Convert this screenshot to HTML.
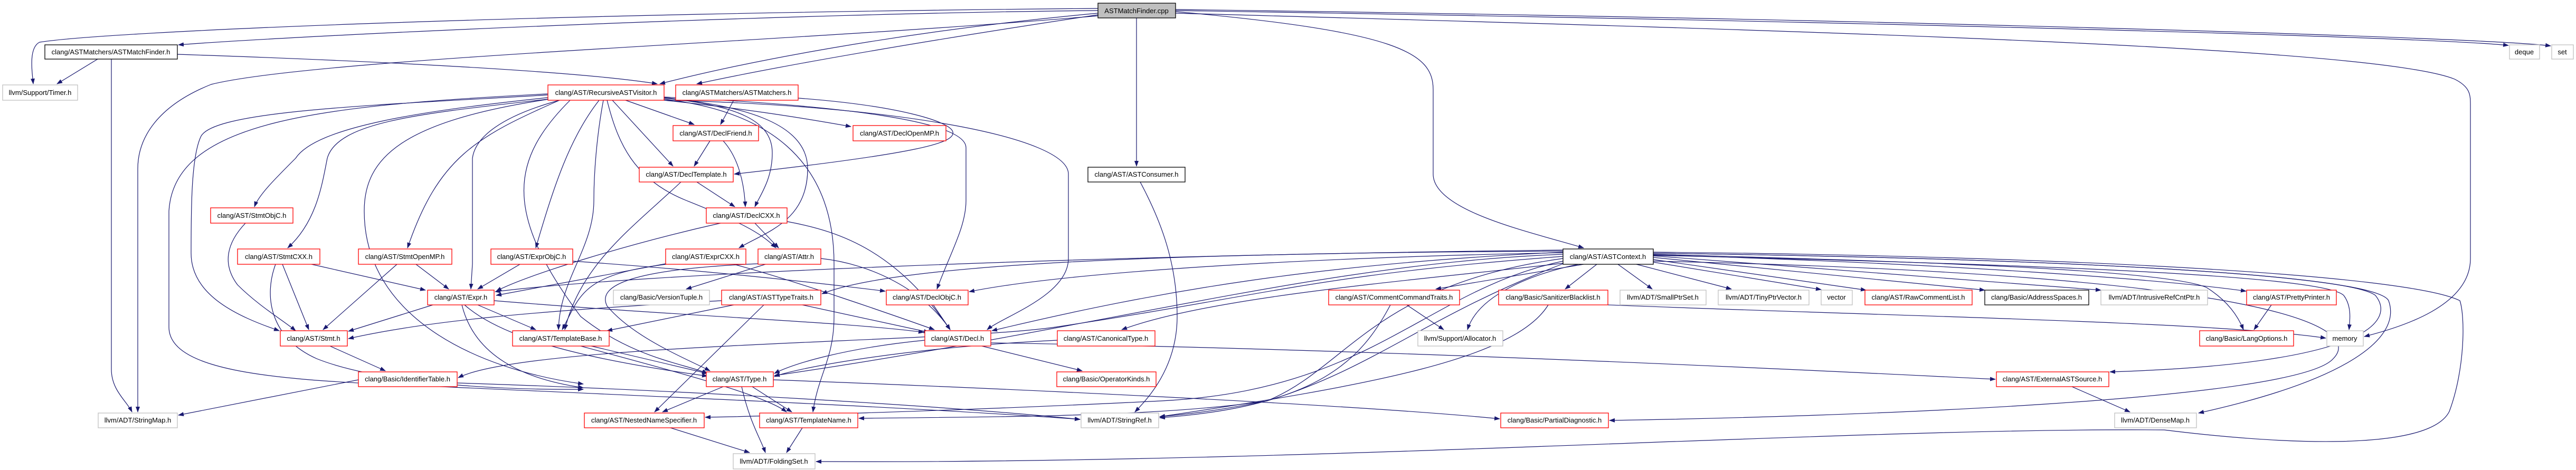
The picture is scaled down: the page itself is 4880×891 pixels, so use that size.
<!DOCTYPE html>
<html><head><meta charset="utf-8"><style>
html,body{margin:0;padding:0;background:#fff;width:4880px;height:891px;overflow:hidden}
svg{display:block}
text{font-family:"Liberation Sans",Arial,sans-serif;font-size:13px;fill:#000;text-anchor:middle}
.r{fill:#fff;stroke:#ff0000;stroke-width:1.3}
.g{fill:#fff;stroke:#bfbfbf;stroke-width:1.3}
.b{fill:#fff;stroke:#000;stroke-width:1.3}
.e{fill:none;stroke:#191970;stroke-width:1.2;marker-end:url(#a)}
</style></head><body>
<svg width="4880" height="891" viewBox="0 0 4880 891" xmlns="http://www.w3.org/2000/svg">
<defs><marker id="a" markerUnits="userSpaceOnUse" markerWidth="11" markerHeight="8" refX="10" refY="4" orient="auto"><path d="M0,0 L11,4 L0,8 z" fill="#191970"/></marker></defs>
<g>
<path class="e" d="M2080,20 C1500,25 600,65 338,85"/>
<path class="e" d="M2080,16 C1000,25 200,60 75,80 C55,90 60,130 63,159"/>
<path class="e" d="M2080,25 C1700,60 1400,120 1250,159"/>
<path class="e" d="M2080,28 C1800,70 1500,120 1320,159"/>
<path class="e" d="M2153,34 L2153,315"/>
<path class="e" d="M2227,22 C2650,60 2715,100 2715,170 L2715,330 C2715,400 2900,440 3000,470"/>
<path class="e" d="M2080,30 C1500,80 600,110 400,160 C300,200 261,260 261,320 L261,781"/>
<path class="e" d="M2227,20 C3500,40 4600,70 4752,86"/>
<path class="e" d="M2227,18 C3500,35 4700,70 4832,87"/>
<path class="e" d="M2227,25 C3500,60 4500,90 4650,150 C4680,165 4680,180 4680,200 L4680,490 C4680,580 4550,620 4479,638"/>
<path class="e" d="M185,112 L108,159"/>
<path class="e" d="M211,112 L211,700 C211,740 240,760 250,781"/>
<path class="e" d="M336,103 C700,115 1100,135 1245,159"/>
<path class="e" d="M1390,190 L1365,236"/>
<path class="e" d="M1512,186 C1700,200 1800,230 1805,250 C1810,270 1750,290 1391,330"/>
<path class="e" d="M1258,190 C1700,200 2024,260 2024,330 L2024,490 C2024,560 1900,600 1870,625"/>
<path class="e" d="M1038,185 C800,210 600,240 560,300 C520,340 490,370 482,392"/>
<path class="e" d="M1038,188 C800,215 640,230 620,300 C610,350 600,420 545,470"/>
<path class="e" d="M1060,190 C900,260 830,300 772,470"/>
<path class="e" d="M1038,180 C700,200 400,210 380,260 C362,300 362,400 362,480 C362,560 450,600 529,627"/>
<path class="e" d="M1060,190 C950,220 900,260 895,300 L895,500 L892,548"/>
<path class="e" d="M1135,190 C1080,260 1050,350 1015,470"/>
<path class="e" d="M1143,190 C1130,260 1125,330 1125,380 C1125,470 1060,530 1058,625"/>
<path class="e" d="M1185,190 L1315,236"/>
<path class="e" d="M1160,190 L1275,315"/>
<path class="e" d="M1150,190 C1170,270 1200,340 1300,380 C1400,420 1440,440 1470,470"/>
<path class="e" d="M1258,185 C1400,200 1530,230 1530,320 C1530,420 1450,440 1400,470"/>
<path class="e" d="M1258,186 C1400,200 1463,230 1463,290 C1463,340 1440,370 1430,392"/>
<path class="e" d="M1258,188 C1450,210 1580,300 1580,500 L1580,600 C1580,680 1550,710 1540,781"/>
<path class="e" d="M1258,190 C1400,205 1500,220 1612,240"/>
<path class="e" d="M1258,184 C1600,200 1830,230 1830,280 L1830,380 C1830,430 1800,480 1775,548"/>
<path class="e" d="M1040,188 C760,230 690,300 690,400 C690,600 900,700 1105,728"/>
<path class="e" d="M1080,190 C970,300 950,400 1100,600 C1200,680 1300,690 1340,708"/>
<path class="e" d="M1038,178 C600,200 330,230 320,400 L320,620 C320,700 500,720 770,730 C1200,750 1700,770 2046,795"/>
<path class="e" d="M1345,267 L1315,315"/>
<path class="e" d="M1370,267 C1400,300 1410,350 1412,392"/>
<path class="e" d="M1320,345 L1392,392"/>
<path class="e" d="M1290,345 C1200,430 1100,500 1070,625"/>
<path class="e" d="M1430,423 L1475,470"/>
<path class="e" d="M1365,423 C1200,460 1000,520 940,552"/>
<path class="e" d="M1491,420 C1600,440 1700,480 1800,625"/>
<path class="e" d="M465,423 C430,460 420,500 450,540 C490,580 540,610 560,627"/>
<path class="e" d="M535,501 L585,625"/>
<path class="e" d="M590,501 L806,550"/>
<path class="e" d="M522,501 C500,560 510,640 600,680 C700,720 900,740 1105,738"/>
<path class="e" d="M752,501 L612,625"/>
<path class="e" d="M788,501 L850,548"/>
<path class="e" d="M985,501 L905,548"/>
<path class="e" d="M1085,495 C1300,510 1500,530 1677,552"/>
<path class="e" d="M1261,500 L940,560"/>
<path class="e" d="M1270,500 C1100,520 1100,560 1065,625"/>
<path class="e" d="M1390,501 C1500,530 1700,600 1770,625"/>
<path class="e" d="M1450,501 L1300,548"/>
<path class="e" d="M1436,500 C1200,510 1130,540 1150,580 C1200,640 1300,680 1345,703"/>
<path class="e" d="M1555,490 C1650,500 1750,550 1800,625"/>
<path class="e" d="M820,578 L660,628"/>
<path class="e" d="M905,578 L1015,625"/>
<path class="e" d="M880,578 C950,640 1100,680 1340,713"/>
<path class="e" d="M936,570 C1300,600 1600,610 1750,630"/>
<path class="e" d="M875,578 C900,680 1000,720 1105,735"/>
<path class="e" d="M1390,578 L1150,627"/>
<path class="e" d="M1447,578 L1240,781"/>
<path class="e" d="M1367,570 C1000,590 800,610 660,642"/>
<path class="e" d="M1520,578 L1760,630"/>
<path class="e" d="M1120,656 L1340,708"/>
<path class="e" d="M1100,656 C1300,710 1450,750 1490,781"/>
<path class="e" d="M1370,733 L1255,781"/>
<path class="e" d="M1425,733 L1500,781"/>
<path class="e" d="M1405,733 C1420,800 1440,830 1450,858"/>
<path class="e" d="M1465,720 C2000,740 2600,770 2841,794"/>
<path class="e" d="M1270,811 L1420,858"/>
<path class="e" d="M1520,811 L1490,858"/>
<path class="e" d="M625,656 L730,703"/>
<path class="e" d="M679,720 L338,787"/>
<path class="e" d="M866,726 C1300,740 1800,770 2046,795"/>
<path class="e" d="M1768,578 L1800,625"/>
<path class="e" d="M1860,656 L2050,703"/>
<path class="e" d="M1752,645 C1600,660 1500,690 1467,708"/>
<path class="e" d="M1877,650 C2500,660 3200,690 3780,719"/>
<path class="e" d="M2160,345 C2200,420 2230,500 2230,600 C2230,700 2170,760 2150,781"/>
<path class="e" d="M3000,501 L2720,548"/>
<path class="e" d="M3025,501 L2965,548"/>
<path class="e" d="M3065,501 L3130,548"/>
<path class="e" d="M3100,501 L3280,548"/>
<path class="e" d="M3120,495 L3450,549"/>
<path class="e" d="M3132,492 L3535,550"/>
<path class="e" d="M3132,488 L3760,550"/>
<path class="e" d="M3132,485 L3980,550"/>
<path class="e" d="M3132,483 C3700,500 4100,530 4255,552"/>
<path class="e" d="M3132,482 C3600,495 4100,510 4180,545 C4220,570 4240,600 4250,625"/>
<path class="e" d="M3132,484 C3800,500 4400,520 4440,560 C4455,580 4452,605 4450,625"/>
<path class="e" d="M3132,480 C3900,490 4450,520 4500,560 C4540,610 4480,690 3997,705"/>
<path class="e" d="M3132,480 C3900,490 4500,520 4525,570 C4550,640 4450,720 4165,783"/>
<path class="e" d="M3132,478 C3900,485 4560,520 4660,570 C4670,600 4670,700 4640,780 C4600,860 4300,840 4100,815 C3500,810 2500,880 1546,875"/>
<path class="e" d="M2990,501 C2900,520 2800,560 2780,625"/>
<path class="e" d="M2961,478 C2500,500 2200,550 1879,627"/>
<path class="e" d="M2961,482 C2500,500 2100,620 1467,712"/>
<path class="e" d="M2961,476 C2200,480 1700,500 1557,557"/>
<path class="e" d="M2961,474 C2000,485 1200,520 938,553"/>
<path class="e" d="M2961,479 C2400,490 2000,520 1836,553"/>
<path class="e" d="M2961,490 C2600,540 2550,700 2400,760 C2200,790 1900,790 1627,793"/>
<path class="e" d="M2961,495 C2700,550 2600,740 2200,760 C1800,780 1400,790 1336,791"/>
<path class="e" d="M2970,498 C2700,530 2300,560 2125,625"/>
<path class="e" d="M3132,495 C4300,520 4480,620 4420,680 C4350,760 3500,790 3049,797"/>
<path class="e" d="M2961,500 C2700,600 2600,700 2400,760 C2300,780 2250,785 2197,790"/>
<path class="e" d="M2961,486 C2500,520 2400,560 2000,620 C1800,650 1000,650 868,716"/>
<path class="e" d="M2665,578 L2735,625"/>
<path class="e" d="M2634,578 C2580,680 2500,770 2197,792"/>
<path class="e" d="M2933,578 C2870,680 2600,730 2197,790"/>
<path class="e" d="M3046,578 C3600,600 4200,610 4406,641"/>
<path class="e" d="M4303,578 L4270,625"/>
<path class="e" d="M3925,733 L4035,781"/>
<path class="e" d="M2003,645 C1700,660 1500,700 1467,714"/>
</g>
<g>
<rect x="2080" y="6" width="147" height="28" fill="#bfbfbf" stroke="#000" stroke-width="1.3"/><text x="2153" y="25">ASTMatchFinder.cpp</text>
<rect class="b" x="85" y="85" width="251" height="27"/><text x="210" y="103">clang/ASTMatchers/ASTMatchFinder.h</text>
<rect class="g" x="5" y="161" width="142" height="29"/><text x="76" y="180">llvm/Support/Timer.h</text>
<rect class="r" x="1038" y="161" width="220" height="29"/><text x="1148" y="180">clang/AST/RecursiveASTVisitor.h</text>
<rect class="r" x="1280" y="161" width="232" height="29"/><text x="1396" y="180">clang/ASTMatchers/ASTMatchers.h</text>
<rect class="g" x="4754" y="85" width="57" height="27"/><text x="4782" y="103">deque</text>
<rect class="g" x="4834" y="85" width="41" height="27"/><text x="4854" y="103">set</text>
<rect class="r" x="1275" y="238" width="162" height="29"/><text x="1356" y="257">clang/AST/DeclFriend.h</text>
<rect class="r" x="1616" y="238" width="176" height="29"/><text x="1704" y="257">clang/AST/DeclOpenMP.h</text>
<rect class="r" x="1211" y="317" width="178" height="28"/><text x="1300" y="335">clang/AST/DeclTemplate.h</text>
<rect class="b" x="2061" y="317" width="184" height="28"/><text x="2153" y="335">clang/AST/ASTConsumer.h</text>
<rect class="r" x="399" y="394" width="156" height="29"/><text x="477" y="413">clang/AST/StmtObjC.h</text>
<rect class="r" x="1338" y="394" width="153" height="29"/><text x="1414" y="413">clang/AST/DeclCXX.h</text>
<rect class="r" x="450" y="472" width="156" height="29"/><text x="528" y="491">clang/AST/StmtCXX.h</text>
<rect class="r" x="679" y="472" width="177" height="29"/><text x="767" y="491">clang/AST/StmtOpenMP.h</text>
<rect class="r" x="930" y="472" width="155" height="29"/><text x="1007" y="491">clang/AST/ExprObjC.h</text>
<rect class="r" x="1261" y="472" width="152" height="29"/><text x="1337" y="491">clang/AST/ExprCXX.h</text>
<rect class="r" x="1436" y="472" width="119" height="29"/><text x="1495" y="491">clang/AST/Attr.h</text>
<rect class="b" x="2961" y="472" width="171" height="29"/><text x="3046" y="491">clang/AST/ASTContext.h</text>
<rect class="r" x="810" y="550" width="126" height="28"/><text x="873" y="568">clang/AST/Expr.h</text>
<rect class="g" x="1162" y="550" width="182" height="28"/><text x="1253" y="568">clang/Basic/VersionTuple.h</text>
<rect class="r" x="1367" y="550" width="188" height="28"/><text x="1461" y="568">clang/AST/ASTTypeTraits.h</text>
<rect class="r" x="1679" y="550" width="155" height="28"/><text x="1756" y="568">clang/AST/DeclObjC.h</text>
<rect class="r" x="2517" y="550" width="248" height="28"/><text x="2641" y="568">clang/AST/CommentCommandTraits.h</text>
<rect class="r" x="2839" y="550" width="207" height="28"/><text x="2942" y="568">clang/Basic/SanitizerBlacklist.h</text>
<rect class="g" x="3069" y="550" width="163" height="28"/><text x="3150" y="568">llvm/ADT/SmallPtrSet.h</text>
<rect class="g" x="3255" y="550" width="172" height="28"/><text x="3341" y="568">llvm/ADT/TinyPtrVector.h</text>
<rect class="g" x="3450" y="550" width="59" height="28"/><text x="3479" y="568">vector</text>
<rect class="r" x="3533" y="550" width="203" height="28"/><text x="3634" y="568">clang/AST/RawCommentList.h</text>
<rect class="b" x="3760" y="550" width="197" height="28"/><text x="3858" y="568">clang/Basic/AddressSpaces.h</text>
<rect class="g" x="3980" y="550" width="202" height="28"/><text x="4081" y="568">llvm/ADT/IntrusiveRefCntPtr.h</text>
<rect class="r" x="4256" y="550" width="170" height="28"/><text x="4341" y="568">clang/AST/PrettyPrinter.h</text>
<rect class="r" x="531" y="627" width="127" height="29"/><text x="594" y="646">clang/AST/Stmt.h</text>
<rect class="r" x="971" y="627" width="183" height="29"/><text x="1062" y="646">clang/AST/TemplateBase.h</text>
<rect class="r" x="1752" y="627" width="125" height="29"/><text x="1814" y="646">clang/AST/Decl.h</text>
<rect class="r" x="2003" y="627" width="185" height="29"/><text x="2095" y="646">clang/AST/CanonicalType.h</text>
<rect class="g" x="2686" y="627" width="161" height="29"/><text x="2766" y="646">llvm/Support/Allocator.h</text>
<rect class="r" x="4167" y="627" width="178" height="29"/><text x="4256" y="646">clang/Basic/LangOptions.h</text>
<rect class="g" x="4408" y="627" width="69" height="29"/><text x="4442" y="646">memory</text>
<rect class="r" x="679" y="705" width="187" height="28"/><text x="772" y="723">clang/Basic/IdentifierTable.h</text>
<rect class="r" x="1338" y="705" width="127" height="28"/><text x="1401" y="723">clang/AST/Type.h</text>
<rect class="r" x="2002" y="705" width="188" height="28"/><text x="2096" y="723">clang/Basic/OperatorKinds.h</text>
<rect class="r" x="3782" y="705" width="213" height="28"/><text x="3888" y="723">clang/AST/ExternalASTSource.h</text>
<rect class="g" x="186" y="783" width="150" height="28"/><text x="261" y="801">llvm/ADT/StringMap.h</text>
<rect class="r" x="1107" y="783" width="227" height="28"/><text x="1220" y="801">clang/AST/NestedNameSpecifier.h</text>
<rect class="r" x="1439" y="783" width="186" height="28"/><text x="1532" y="801">clang/AST/TemplateName.h</text>
<rect class="g" x="2048" y="783" width="147" height="28"/><text x="2121" y="801">llvm/ADT/StringRef.h</text>
<rect class="r" x="2843" y="783" width="204" height="28"/><text x="2945" y="801">clang/Basic/PartialDiagnostic.h</text>
<rect class="g" x="4006" y="783" width="155" height="28"/><text x="4083" y="801">llvm/ADT/DenseMap.h</text>
<rect class="g" x="1389" y="860" width="155" height="29"/><text x="1466" y="879">llvm/ADT/FoldingSet.h</text>
</g>
</svg>
</body></html>
